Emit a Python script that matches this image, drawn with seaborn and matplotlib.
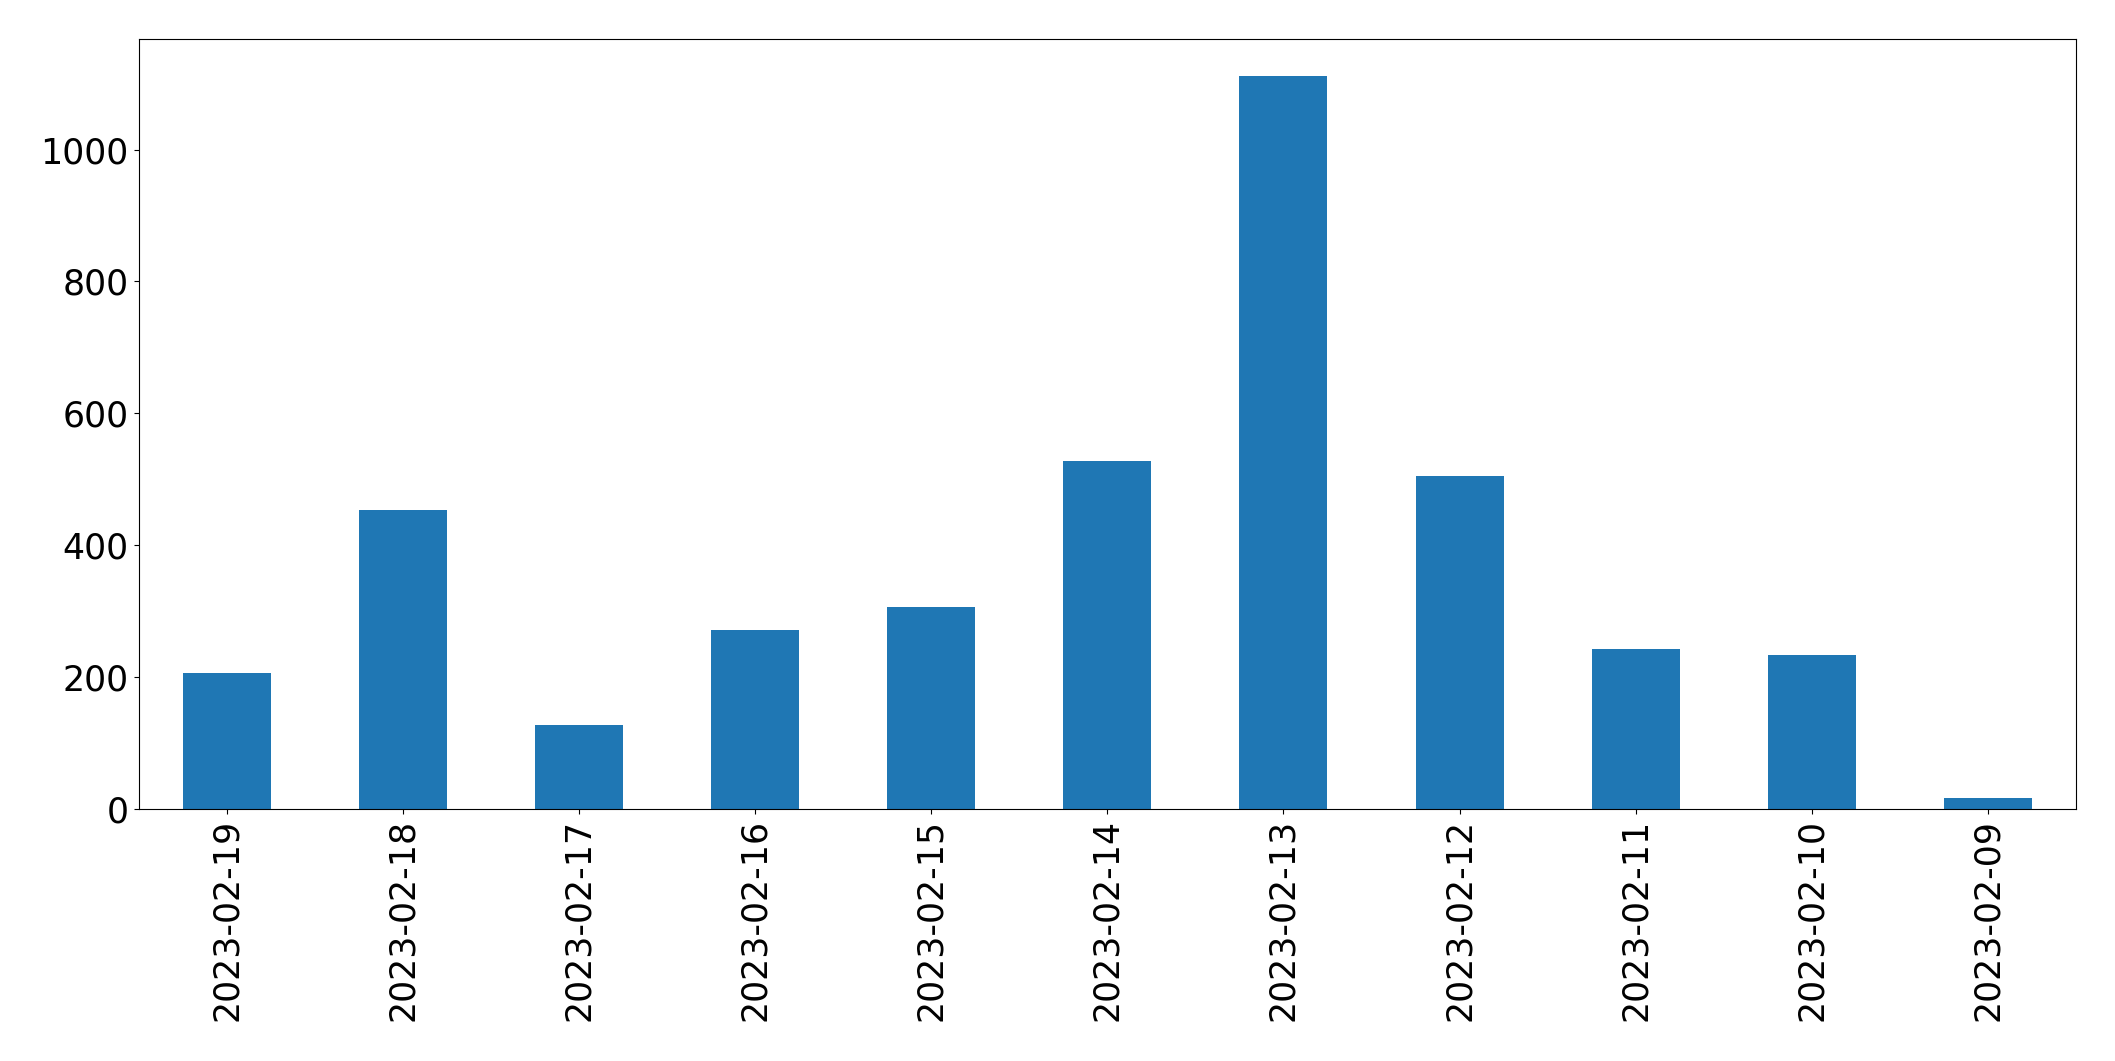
import pandas as pd
import seaborn as sns
from matplotlib import pyplot as plt

# Daily counts, newest date first (as in the original chart)
dates = ['2023-02-19', '2023-02-18', '2023-02-17', '2023-02-16', '2023-02-15',
         '2023-02-14', '2023-02-13', '2023-02-12', '2023-02-11', '2023-02-10',
         '2023-02-09']
counts = [206, 454, 127, 271, 306, 528, 1112, 505, 243, 234, 17]

df = pd.DataFrame({'date': dates, 'count': counts})

fig, ax = plt.subplots(figsize=(21.15, 10.61), dpi=100)
fig.subplots_adjust(left=0.0655, right=0.9816, top=0.9632, bottom=0.2375)

sns.barplot(data=df, x='date', y='count', order=dates, color='#1f77b4',
            saturation=1, width=0.5, ax=ax)

ax.set_xlim(-0.5, len(dates) - 0.5)
ax.set_xlabel('')
ax.set_ylabel('')
ax.tick_params(axis='both', labelsize=25)
ax.tick_params(axis='x', labelrotation=90)

plt.savefig('out.png', dpi=100)
